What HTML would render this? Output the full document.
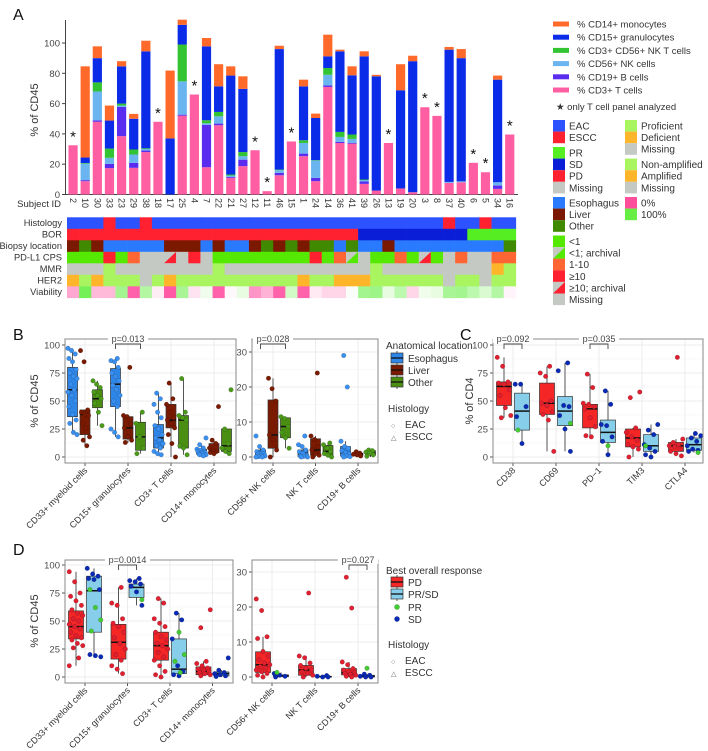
<!DOCTYPE html>
<html><head><meta charset="utf-8">
<style>
html,body{margin:0;padding:0;background:#fff;}
svg{display:block;font-family:"Liberation Sans",Arial,sans-serif;}
</style></head>
<body>
<svg id="fig" width="708" height="751" viewBox="0 0 708 751"></svg>
<script>
// ===== Panel A data =====
const subjectIds=["2","10","30","33","23","29","38","18","17","25","4","7","22","21","27","12","11","46","15","1","24","14","36","41","39","26","13","19","20","3","8","37","40","6","5","34","16"];
const tCells=[32.5,8.8,48,17.4,38.5,17.6,28,48,0,52,66,18,45.7,11,18.7,29.2,2.2,12.7,35,25.3,8.8,71,34,33.6,7,2.6,34,4,1.5,57.6,51.9,7.7,8.1,20.9,14.7,3.7,39.6];
const bCells=[0,0.7,1,2.8,19.3,3.3,1,0,0,0.7,0,28,1.1,0.6,4.3,0,0,1.6,0,1.7,2.2,1,0.7,0.4,1.6,0,0,0,0,0,0,0,0,0,0,2.2,0];
const nkCells=[0,10.9,19,4,0.9,5.5,1,0,0,22,0,1,4.8,0.9,2.3,0,0,1.7,0,7,11.4,7,3.3,2.7,0.9,0,0,0,0,0,0,0.6,0.6,0,0,2.2,0];
const nktCells=[0,0.4,6,6.1,1.3,3.3,0.5,0,0,24.3,0,2,2.9,0.7,2.7,0,0,0.4,0,1.8,0.3,4.5,3.3,2.9,0.4,0,0,0,0,0,0,0,0,0,0,0,0];
const granulocytes=[0,3.6,16,18.5,24.6,20.3,64,0,37,13,0,48.8,16.9,65.3,41.7,0,0,79.6,0,35.6,27.8,7.7,53.2,39.1,81.3,75.4,0,64.8,86.5,0,0,87.3,81.3,0,0,67.7,0];
const monocytes=[0,60.2,7.8,9.9,3.4,3.2,7,0,44.8,3.4,0,5.5,14.6,6.1,8.3,0,0,2.2,0,4.4,2.9,14.3,1.1,5.9,3.3,1,0,17.2,3.6,0,0,1.8,6,0,0,2.7,0];
const tOnly=[1,0,0,0,0,0,0,1,0,0,1,0,0,0,0,1,1,0,1,0,0,0,0,0,0,0,1,0,0,1,1,0,0,1,1,0,1];
const aTicks=[0,20,40,60,80,100];
// heatmap rows
const histologyRow="EEESEESEEEEEEEEEEEEEEEEEEEEEEEESEESEE".split("").slice(0,37);
const borRow=[..."PPPPPPPPPPPPPPPPPPPPPPPP","SSSSSSSSS","RRRR"].join("").split("");
const locationRow="LOLEEEEELLLELEELOLOLOOEOEELEEEEEEEEEO".split("");
const pdl1Row=["g","g","g","r","g","o","m","m","ra","m","r","m","g","g","g","g","g","g","g","g","r","g","o","ga","m","g","g","o","g","ra","g","m","o","m","m","o","o"];
const mmrRow="mmmpmmmmmmmmpmmmmmmmmmmmmpmmmmmmmmmdp".split("");
const her2Row="anannnmnannnnnnnnnnannaaannnnnnmnnmnn".split("");
const viabilityRow=[25,95,30,30,80,5,75,45,3,78,42,55,5,48,58,20,28,5,65,5,44,38,38,52,80,82,58,72,38,55,58,78,80,72,62,75,47];

// ===== Box panels data =====
const bCatsLeft=["CD33+ myeloid cells","CD15+ granulocytes","CD3+ T cells","CD14+ monocytes"];
const bCatsRight=["CD56+ NK cells","NK T cells","CD19+ B cells"];
const bEsoStatsL=[[20,36,60,80,97],[18,45,65,79,88],[2,8,17,29,57],[1,2.5,5,7,11]];
const bLivStatsL=[[10,20,38,42,42],[13,16,26,36,37],[0,26,33,47,66],[3,4,6,12,15]];
const bOthStatsL=[[28,44,52,60,68],[3,6,18,31,40],[2,8,33,37,70],[3,5,10,25,25]];
const bEsoPtsL=[[97,95,92,88,85,78,75,72,70,65,60,58,55,50,45,38,33,30,22,20],[88,86,85,80,75,72,68,64,60,55,50,45,25,22,18],[57,52,47,40,35,28,25,20,17,15,12,10,8,5,3,2],[17,11,8,7,6,5,5,4,4,3,3,2,2,1]];
const bLivPtsL=[[95,85,42,40,38,37,30,26,18,15,10],[80,37,36,30,26,18,15,13],[66,52,47,40,35,33,30,26,20,12,0],[45,15,12,8,6,5,4,3]];
const bOthPtsL=[[68,65,62,58,55,52,48,40,28],[40,30,18,8,3],[70,40,37,35,33,10,8,2],[60,25,12,8,5,3]];
const bEsoStatsR=[[0,0.3,1,2,3],[0,0.2,1,2,3.5],[0,0.3,1.2,3,4.5]];
const bLivStatsR=[[0,2.5,6.3,16.3,22.5],[0,0.5,2,5.2,6],[0.3,0.5,0.8,1.1,1.5]];
const bOthStatsR=[[2.5,5.5,8.7,11.2,11.5],[0,0.5,1.6,3.3,4],[0,0.5,1.1,1.8,2]];
const bEsoPtsR=[[6,3,2,1.5,1,1,0.8,0.5,0.3,0.1,0,0],[6,3.5,3,2,1.5,1,0.5,0.3,0.2,0,0],[29,20,4.5,3,2.5,1.8,1.2,0.8,0.5,0.3,0.1,0]];
const bLivPtsR=[[22.5,19.5,16,6.3,5,2,0],[24,6,5,3,2,1,0.5,0],[1.5,1.1,0.8,0.6,0.3]];
const bOthPtsR=[[11.5,11,8.7,7,5.5,2.5],[4,3.5,2.5,1.6,1,0.5,0],[2,1.8,1.4,1.1,0.6,0.2]];

const cCats=["CD38","CD69","PD\u22121","TIM3","CTLA4"];
const cPdStats=[[35,46,63,67,89],[5,38,48,66,81],[18,26,43,47,74],[0,9,17,25,26],[1,5,10,13,16]];
const cPrsdStats=[[12,24,41,57,65],[5,28,41,54,84],[2,13,22,33,59],[0,5,10,20,29],[4,6,11,17,21]];
const cPdPts=[[89,81,67,66,65,60,55,44,37,35],[81,75,72,50,48,46,40,38,33,5],[74,62,48,47,45,43,35,27,19,18],[58,53,26,22,18,15,11,9,7,0],[89,16,13,11,10,9,7,5,3,1]];
const cSdPts=[[65,65,45,36,12],[84,77,46,45,37,25,5],[59,47,29,28,18,14,2],[29,24,20,11,8,5,2,0],[21,19,17,14,10,7,6,5]];
const cPrPts=[[24],[30],[10],[10],[4]];

const dPdStatsL=[[10,34,45,59,94],[3,16,31,47,80],[0,15,28,40,70],[1,2,5,9,14]];
const dPrsdStatsL=[[18,40,77,90,97],[64,71,80,83,88],[1,3,7,34,57],[0,1,3,4.5,6]];
const dPdPtsL=[[94,85,75,72,68,64,60,57,55,52,50,47,45,43,40,37,35,33,30,28,26,17,10],[80,66,64,52,48,45,40,35,30,25,20,15,10,7,3],[70,66,52,48,45,40,36,33,30,28,25,22,18,15,10,5,2,0],[60,44,14,12,10,8,7,6,5,4,3,2,1]];
const dSdPtsL=[[97,92,90,88,87,78,20,19,18],[88,86,85,83,81,76,64],[57,51,34,10,5,2,1],[17,6,4,3,2,1,0.5]];
const dPrPtsL=[[78,62,51,41],[69],[40,20,14,4],[]];
const dPdStatsR=[[0,1.3,3.5,7.2,11.5],[0,0.5,2,3.3,6],[0,0.6,1.2,2.4,4.3]];
const dPrsdStatsR=[[0,0.1,0.4,0.6,1.3],[0,0,0.1,0.2,0.4],[0,0,0.2,0.5,0.8]];
const dPdPtsR=[[22.3,19,11.5,11,7.3,6,5,4,3.5,3,2.5,2,1.5,1,0.5,0],[24,6,5.5,4,3.3,2.5,2,1.5,1,0.5,0],[28.5,19.7,4.3,3.5,2.4,2,1.5,1.2,1,0.8,0.5,0.2,0]];
const dSdPtsR=[[1,0.5,0.2,0],[0.4,0.2,0,0],[0.8,0.5,0.2,0,0]];
const dPrPtsR=[[1.3],[],[2.5]];

const leftTicks=[0,25,50,75,100];
const rightTicks=[0,10,20,30];

// ===== helpers =====
const NS="http://www.w3.org/2000/svg";
const svg=document.getElementById("fig");
function mk(tag,attrs,parent){const e=document.createElementNS(NS,tag);for(const k in attrs)e.setAttribute(k,attrs[k]);(parent||svg).appendChild(e);return e;}
function txt(s,x,y,size,anchor,fill,parent){const e=mk("text",{x:x,y:y,"font-size":size,"text-anchor":anchor||"start",fill:fill||"#333"},parent);e.textContent=s;return e;}

// ===== Panel A =====
const gA=mk("g",{});


const lblA=txt("A",13,20,16,"start","#111",gA);


const xA=i=>67+12.13*(i+0.5);
const yA=v=>194.5-v*1.515;
const axA=mk("path",{d:"M65.5 20 V194.5 H518",stroke:"#444","stroke-width":1,fill:"none"},gA);


aTicks.forEach(t=>{
  const tl=txt(String(t),60,yA(t)+3.5,9.5,"end","#444",gA);
  
  
  const tk=mk("line",{x1:62,x2:65.5,y1:yA(t),y2:yA(t),stroke:"#444"},gA);
  
  
});
const yTitleA=txt("% of CD45",0,0,11,"middle","#333",gA);
yTitleA.setAttribute("transform","translate(38,110) rotate(-90)");


const segSeries=[tCells,bCells,nkCells,nktCells,granulocytes,monocytes];
const segColors=["#ff5fa2","#5a2cf0","#6ab4f0","#33c433","#0a2be8","#ff6a2a"];
const segNames=["t-cells","b-cells","nk-cells","nkt-cells","granulocytes","monocytes"];
subjectIds.forEach((id,i)=>{
  let cum=0;
  segSeries.forEach((arr,s)=>{
    const v=arr[i]; if(v<=0) return;
    const r=mk("rect",{x:xA(i)-4.6,y:yA(cum+v),width:9.2,height:v*1.515,fill:segColors[s]},gA);
    
    
    cum+=v;
  });
  if(tOnly[i]){
    const st=txt("*",xA(i),yA(cum)-4,15,"middle","#111",gA);
    
    
  }
  const lab=txt(id,0,0,9,"start","#333",gA);
  lab.setAttribute("transform","translate("+(xA(i)-3)+",198) rotate(90)");
  
  
});
const sidT=txt("Subject ID",61,207,9.5,"end","#333",gA);



// heatmap
const hmColors={E:"#2d52ff",S:"#ff2030",P:"#ff2030",SD:"#0a1ed8",R:"#55ee22",L:"#7a1800",O:"#3f8a00",Es:"#2a7aff",g:"#55e800",o:"#ff6633",r:"#ff2030",m:"#c4c9c4",p:"#a8f560",d:"#ffb52a",n:"#a8f560",a:"#ffb52a"};
const rowY=[217.3,228.8,240.3,251.8,263.3,274.8,286.3];
const rowH=11.5;
const rowLabels=["Histology","BOR","Biopsy location","PD-L1 CPS","MMR","HER2","Viability"];
function viaColor(v){
  let c0,c1,t;
  if(v<50){c0=[255,79,160];c1=[255,255,255];t=v/50;}else{c0=[255,255,255];c1=[102,238,68];t=(v-50)/50;}
  const c=c0.map((a,k)=>Math.round(a+(c1[k]-a)*t));return "rgb("+c.join(",")+")";
}
function cellColor(r,i){
  if(r===0) return histologyRow[i]==="S"?hmColors.S:hmColors.E;
  if(r===1){const b=borRow[i];return b==="P"?hmColors.P:b==="S"?hmColors.SD:hmColors.R;}
  if(r===2){const l=locationRow[i];return l==="L"?hmColors.L:l==="O"?hmColors.O:hmColors.Es;}
  if(r===3){const p=pdl1Row[i];return p==="ra"?hmColors.r:p==="ga"?hmColors.g:hmColors[p];}
  if(r===4) return hmColors[mmrRow[i]];
  if(r===5) return hmColors[her2Row[i]];
  return viaColor(viabilityRow[i]);
}
const cw=12.13;
rowLabels.forEach((lab,r)=>{
  const t=txt(lab,62,rowY[r]+8.8,9.3,"end","#333",gA);
  
  
  for(let i=0;i<37;i++){
    const x=67+cw*i;
    const c=mk("rect",{x:x,y:rowY[r],width:cw+0.3,height:rowH+0.3,fill:cellColor(r,i)},gA);
    
    
    if(r===3&&(pdl1Row[i]==="ra"||pdl1Row[i]==="ga")){
      c.setAttribute("fill","#c4c9c4");
      const tri=mk("path",{d:"M"+(x+cw)+" "+rowY[r]+" L"+(x+cw)+" "+(rowY[r]+rowH)+" L"+x+" "+(rowY[r]+rowH)+"Z",fill:cellColor(r,i)},gA);
      
      
    }
  }
});

// Legend A
const gL=mk("g",{});


const barLegend=[["% CD14+ monocytes","#ff6a2a"],["% CD15+ granulocytes","#0a2be8"],["% CD3+ CD56+ NK T cells","#33c433"],["% CD56+ NK cells","#6ab4f0"],["% CD19+ B cells","#5a2cf0"],["% CD3+ T cells","#ff5fa2"]];
barLegend.forEach((b,k)=>{
  const y=24+13.2*k;
  const r=mk("rect",{x:553,y:y-2.5,width:16,height:5,fill:b[1]},gL);
  
  
  const t=txt(b[0],577,y+3.5,9.5,"start","#333",gL);
  
  
});
const starNote=txt("\u2605 only T cell panel analyzed",556,110,9.5,"start","#333",gL);


function keyEntry(x,y,color,label,arch){
  const r=mk("rect",{x:x,y:y,width:12,height:11.6,fill:color},gL);
  
  
  if(arch){
    r.setAttribute("fill","#c4c9c4");
    const tri=mk("path",{d:"M"+(x+12)+" "+y+" L"+(x+12)+" "+(y+11.6)+" L"+x+" "+(y+11.6)+"Z",fill:color},gL);
    
    
  }
  const t=txt(label,x+16,y+9.5,10,"start","#333",gL);
  
  
}
[["EAC","#2d52ff",120],["ESCC","#ff2030",131.6],["PR","#55ee22",147],["SD","#0a1ed8",158.6],["PD","#ff2030",170.2],["Missing","#c4c9c4",181.8],["Esophagus","#2a7aff",197],["Liver","#7a1800",208.6],["Other","#3f8a00",220.2],["<1","#55e800",235.5],["<1; archival","#55e800",247.1,1],["1-10","#ff6633",258.7],["\u226510","#ff2030",270.3],["\u226510; archival","#ff2030",281.9,1],["Missing","#c4c9c4",293.5]].forEach(e=>keyEntry(553,e[2],e[1],e[0],e[3]));
[["Proficient","#a8f560",120],["Deficient","#ffb52a",131.6],["Missing","#c4c9c4",143.2],["Non-amplified","#a8f560",158.6],["Amplified","#ffb52a",170.2],["Missing","#c4c9c4",181.8],["0%","#ff4f9a",197],["100%","#66ee44",208.6]].forEach(e=>keyEntry(625,e[2],e[1],e[0]));

// ===== Box panel helper =====
function boxPanel(o){
  const g=mk("g",{});
  
  
  const y=v=>o.y0-(v-0)*o.k;
  const bg=mk("rect",{x:o.x0,y:o.top,width:o.x1-o.x0,height:o.bot-o.top,fill:"#fff"},g);
  
  
  for(let a=0;a<o.ticks.length;a++){
    const t=o.ticks[a];
    if(a<o.ticks.length-1){
      const mv=(t+o.ticks[a+1])/2;
      const mg=mk("line",{x1:o.x0,x2:o.x1,y1:y(mv),y2:y(mv),stroke:"#f3f3f3","stroke-width":0.6},g);
      
      
    }
    const gl=mk("line",{x1:o.x0,x2:o.x1,y1:y(t),y2:y(t),stroke:"#e8e8e8","stroke-width":0.8},g);
    
    
    const tl=txt(String(t),o.x0-5,y(t)+3.5,9.5,"end","#4d4d4d",g);
    
    
    const tk=mk("line",{x1:o.x0-3,x2:o.x0,y1:y(t),y2:y(t),stroke:"#555"},g);
    
    
  }
  o.cats.forEach((c,i)=>{
    const cx=o.c0+o.step*i;
    const vg=mk("line",{x1:cx,x2:cx,y1:o.top,y2:o.bot,stroke:"#e8e8e8","stroke-width":0.8},g);
    
    
    const tk=mk("line",{x1:cx,x2:cx,y1:o.bot,y2:o.bot+3,stroke:"#555"},g);
    
    
    const cl=txt(c,0,0,9,"end","#333",g);
    cl.setAttribute("transform","translate("+(cx+3)+","+(o.bot+8)+") rotate(-45)");
    
    
    o.groups.forEach((gr,gi)=>{
      const bx=cx+o.dodge[gi];
      const s=gr.stats[i];
      const wl=mk("line",{x1:bx,x2:bx,y1:y(s[0]),y2:y(s[4]),stroke:"#555","stroke-width":1},g);
      
      
      const bx1=mk("rect",{x:bx-o.bw/2,y:y(s[3]),width:o.bw,height:Math.max(0.5,y(s[1])-y(s[3])),fill:gr.fill,stroke:"#333","stroke-width":0.7},g);
      
      
      const md=mk("line",{x1:bx-o.bw/2,x2:bx+o.bw/2,y1:y(s[2]),y2:y(s[2]),stroke:"#111","stroke-width":1.5},g);
      
      
      const sets=[[gr.pts[i],gr.pc]];
      if(gr.pr) sets.push([gr.pr[i],"#44cc33"]);
      sets.forEach((st,si)=>{
        st[0].forEach((v,j)=>{
          const jit=(((j*37+si*13+i*7)%11)-5)/5*o.bw*0.45;
          const p=mk("circle",{cx:bx+jit,cy:y(v),r:2.3,fill:st[1],stroke:"rgba(0,0,0,0.35)","stroke-width":0.4},g);
          
          
        });
      });
    });
  });
  const fr=mk("rect",{x:o.x0,y:o.top,width:o.x1-o.x0,height:o.bot-o.top,fill:"none",stroke:"#888","stroke-width":1},g);
  
  
  (o.pvals||[]).forEach(p=>{
    const xa=o.c0+o.step*p.cat+o.dodge[p.a], xb=o.c0+o.step*p.cat+o.dodge[p.b];
    const br=mk("path",{d:"M"+xa+" "+(o.top+10)+" V"+(o.top+5)+" H"+xb+" V"+(o.top+10),stroke:"#444",fill:"none","stroke-width":0.9},g);
    
    
    const w=p.label.length*4.9+6;
    const pb=mk("rect",{x:(xa+xb)/2-w/2,y:o.top-4,width:w,height:8,fill:"#fff"},g);
    
    
    const pt=txt(p.label,(xa+xb)/2,o.top+3,9,"middle","#444",g);
    
    
  });
  return g;
}
const ESO="#2e86e8",LIV="#7a1a00",OTH="#4a8f12",PDC="#f52626",PRSD="#87ceeb";
// B
boxPanel({name:"panel-b-left",x0:65,x1:236,top:339,bot:463,y0:457,k:1.12,ticks:leftTicks,cats:bCatsLeft,c0:85,step:43,dodge:[-12.5,0,12.5],bw:10,
  groups:[{key:"esophagus",stats:bEsoStatsL,pts:bEsoPtsL,fill:ESO,pc:"#3a90f0"},{key:"liver",stats:bLivStatsL,pts:bLivPtsL,fill:LIV,pc:"#7a1a00"},{key:"other",stats:bOthStatsL,pts:bOthPtsL,fill:OTH,pc:"#4c9a1a"}],
  pvals:[{cat:1,a:0,b:2,label:"p=0.013"}]});
boxPanel({name:"panel-b-right",x0:252,x1:378,top:339,bot:463,y0:457,k:3.5,ticks:rightTicks,cats:bCatsRight,c0:273,step:42.5,dodge:[-12.5,0,12.5],bw:10,
  groups:[{key:"esophagus",stats:bEsoStatsR,pts:bEsoPtsR,fill:ESO,pc:"#3a90f0"},{key:"liver",stats:bLivStatsR,pts:bLivPtsR,fill:LIV,pc:"#7a1a00"},{key:"other",stats:bOthStatsR,pts:bOthPtsR,fill:OTH,pc:"#4c9a1a"}],
  pvals:[{cat:0,a:0,b:2,label:"p=0.028"}]});
// C
boxPanel({name:"panel-c",x0:493,x1:703,top:339,bot:463,y0:457,k:1.12,ticks:leftTicks,cats:cCats,c0:513,step:43,dodge:[-9,9],bw:15,
  groups:[{key:"pd",stats:cPdStats,pts:cPdPts,fill:PDC,pc:"#e02030"},{key:"pr-sd",stats:cPrsdStats,pts:cSdPts,pr:cPrPts,fill:PRSD,pc:"#0a2ab5"}],
  pvals:[{cat:0,a:0,b:1,label:"p=0.092"},{cat:2,a:0,b:1,label:"p=0.035"}]});
// D
boxPanel({name:"panel-d-left",x0:65,x1:233,top:560,bot:683,y0:677,k:1.12,ticks:leftTicks,cats:bCatsLeft,c0:85,step:42.5,dodge:[-9,9],bw:15,
  groups:[{key:"pd",stats:dPdStatsL,pts:dPdPtsL,fill:PDC,pc:"#e02030"},{key:"pr-sd",stats:dPrsdStatsL,pts:dSdPtsL,pr:dPrPtsL,fill:PRSD,pc:"#0a2ab5"}],
  pvals:[{cat:1,a:0,b:1,label:"p=0.0014"}]});
boxPanel({name:"panel-d-right",x0:252,x1:378,top:560,bot:683,y0:677,k:3.5,ticks:rightTicks,cats:bCatsRight,c0:272,step:43,dodge:[-9,9],bw:15,
  groups:[{key:"pd",stats:dPdStatsR,pts:dPdPtsR,fill:PDC,pc:"#e02030"},{key:"pr-sd",stats:dPrsdStatsR,pts:dSdPtsR,pr:dPrPtsR,fill:PRSD,pc:"#0a2ab5"}],
  pvals:[{cat:2,a:0,b:1,label:"p=0.027"}]});

// panel labels and axis titles
[["B",13,340],["C",460,340],["D",13,555]].forEach(l=>{
  const t=txt(l[0],l[1],l[2],16,"start","#111");
  
  
});
[["% of CD45",38,401],["% of CD4",473,401],["% of CD45",38,621]].forEach(a=>{
  const t=txt(a[0],0,0,11,"middle","#333");
  t.setAttribute("transform","translate("+a[1]+","+a[2]+") rotate(-90)");
  
  
});
// legends B and D
function boxKey(x,y,fill,label){
  const w=mk("line",{x1:x+6,x2:x+6,y1:y-1,y2:y+13,stroke:"#555"});
  
  
  const r=mk("rect",{x:x,y:y+1,width:12,height:10,fill:fill,stroke:"#333","stroke-width":0.7});
  
  
  const m=mk("line",{x1:x,x2:x+12,y1:y+6,y2:y+6,stroke:"#111","stroke-width":1.3});
  
  
  const t=txt(label,x+17,y+10,10,"start","#333");
  
  
}
function dotKey(x,y,fill,label){
  const c=mk("circle",{cx:x+6,cy:y+6,r:2.6,fill:fill,stroke:"rgba(0,0,0,0.3)","stroke-width":0.4});
  
  
  const t=txt(label,x+17,y+10,10,"start","#333");
  
  
}
function histLegend(x,y){
  const h=txt("Histology",x,y,10,"start","#333");
  
  
  const a=txt("\u25CB",x+3,y+16,7,"start","#666");
  
  
  const at=txt("EAC",x+17,y+16,10,"start","#333");
  
  
  const b=txt("\u25B3",x+3,y+28,7,"start","#666");
  
  
  const bt=txt("ESCC",x+17,y+28,10,"start","#333");
  
  
}
const tB=txt("Anatomical location",386,349,10,"start","#333");


boxKey(391,352,ESO,"Esophagus");
boxKey(391,364,LIV,"Liver");
boxKey(391,376,OTH,"Other");
histLegend(388,412);
const tD=txt("Best overall response",386,574,10,"start","#333");


boxKey(391,576,PDC,"PD");
boxKey(391,588,PRSD,"PR/SD");
dotKey(391,601,"#44cc33","PR");
dotKey(391,613,"#0a2ab5","SD");
histLegend(388,648);
</script>
</body></html>
